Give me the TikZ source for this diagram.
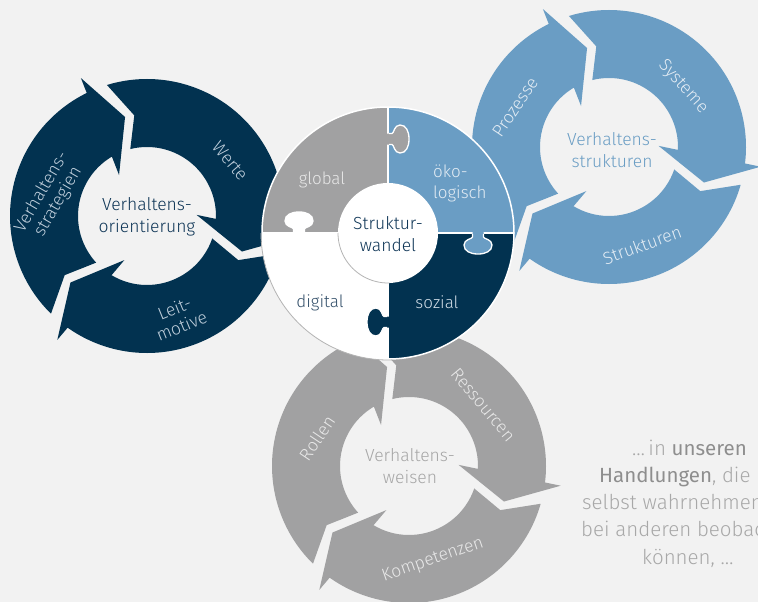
\documentclass[tikz,border=0pt]{standalone}
\usepackage{fontspec}
\setmainfont{Fira Sans Light}[BoldFont={Fira Sans}]
\definecolor{bg}{HTML}{F2F2F2}
\definecolor{navy}{HTML}{023250}
\definecolor{lblue}{HTML}{6A9DC4}
\definecolor{pgray}{HTML}{A1A1A2}
\definecolor{navytxt}{HTML}{BFCEDB}
\definecolor{bluetxt}{HTML}{E3ECF4}
\definecolor{graytxt}{HTML}{E8E8E8}
\definecolor{navydark}{HTML}{0E3556}
\definecolor{graydark}{HTML}{A6A6A6}
\definecolor{digtxt}{HTML}{34506A}
\definecolor{soztxt}{HTML}{D0DCE6}
\definecolor{sidetxt}{HTML}{A8A8A8}
\definecolor{sidebold}{HTML}{8E8E8E}
\definecolor{rimgray}{HTML}{B4B4B4}

% #1 centre, #2 tail rotation, #3 head rotation, #4 colour
\newcommand\RingSeg[4]{%
  \fill[#4,shift={#1}] ({227+#2}:137pt) arc[start angle={227+#2}, end angle={116.1+#3}, radius=137pt]
    -- ({115.6+#3}:153pt) -- ({102.5+#3}:101.4pt) -- ({124.3+#3}:49.6pt)
    -- ({120.6+#3}:69pt) arc[start angle={120.6+#3}, end angle={224+#2}, radius=69pt]
    -- ({217.2+#2}:101.4pt) -- cycle;}

\newcommand\RingOf[2]{%
  \RingSeg{#1}{-1.5}{0}{#2}
  \RingSeg{#1}{-120}{-123}{#2}
  \RingSeg{#1}{-243}{-241.5}{#2}}

\newcommand\PuzzleTab[3]{%
  \begin{scope}[shift={(P)}, rotate=#1]
    \fill[#2] (-1.5,#3-5.5) -- (4,#3-5.5) .. controls (6,#3-5.5) and (6,#3-14) .. (12,#3-14)
      .. controls (18,#3-14) and (21,#3-8) .. (21,#3) .. controls (21,#3+8) and (18,#3+14) .. (12,#3+14)
      .. controls (6,#3+14) and (6,#3+5.5) .. (4,#3+5.5) -- (-1.5,#3+5.5) -- cycle;
    \draw[white, line width=1.3pt] (1,#3-5.5) -- (4,#3-5.5) .. controls (6,#3-5.5) and (6,#3-14) .. (12,#3-14)
      .. controls (18,#3-14) and (21,#3-8) .. (21,#3) .. controls (21,#3+8) and (18,#3+14) .. (12,#3+14)
      .. controls (6,#3+14) and (6,#3+5.5) .. (4,#3+5.5) -- (1,#3+5.5);
  \end{scope}}

\tikzset{
  ringlbl/.style={font=\fontsize{17.5}{19}\selectfont, align=center, inner sep=0pt},
  centerlbl/.style={font=\fontsize{17.5}{21.5}\selectfont, align=center, inner sep=0pt},
  puzlbl/.style={font=\fontsize{17}{21}\selectfont, align=center, inner sep=0pt},
  sidelbl/.style={font=\fontsize{20.5}{24}\selectfont, text=sidetxt, inner sep=0pt, anchor=mid west},
}

\begin{document}
\begin{tikzpicture}[x=1pt,y=1pt]
\useasboundingbox (0,0) rectangle (758,-602);
\clip (0,0) rectangle (758,-602);
\fill[bg] (0,0) rectangle (758,-602);

% left ring
\RingOf{(147,-216)}{navy}
\node[ringlbl, text=navytxt, rotate=-50] (werte) at (230,-161) {Werte};
\node[ringlbl, text=navytxt, rotate=60] (strat) at (50,-197) {Verhaltens-\\strategien};
\node[ringlbl, text=navytxt, rotate=22] (leit) at (178,-317) {Leit-\\motive};
\node[centerlbl, text=navydark] (vo) at (147,-217) {Verhaltens-\\orientierung};

% right ring
\RingOf{(609,-147)}{lblue}
\node[ringlbl, text=bluetxt, rotate=-48] (sys) at (683,-87) {Systeme};
\node[ringlbl, text=bluetxt, rotate=56] (proz) at (515,-107) {Prozesse};
\node[ringlbl, text=bluetxt, rotate=20] (strk) at (642,-245) {Strukturen};
\node[centerlbl, text=lblue] (vs) at (612,-150) {Verhaltens-\\strukturen};

% bottom ring
\RingOf{(409,-466)}{pgray}
\node[ringlbl, text=graytxt, rotate=-50] (ress) at (483,-405) {Ressourcen};
\node[ringlbl, text=graytxt, rotate=56] (roll) at (317,-438) {Rollen};
\node[ringlbl, text=graytxt, rotate=19] (komp) at (433,-560) {Kompetenzen};
\node[centerlbl, text=graydark] (vw) at (410,-466) {Verhaltens-\\weisen};

% puzzle
\coordinate (P) at (388,-233);
\fill[pgray] (P) -- ++(180:126pt) arc[start angle=180, end angle=90, radius=126pt] -- cycle;
\fill[lblue] (P) -- ++(90:126pt) arc[start angle=90, end angle=0, radius=126pt] -- cycle;
\fill[navy] (P) -- ++(0:126pt) arc[start angle=0, end angle=-90, radius=126pt] -- cycle;
\fill[white] (P) -- ++(-90:126pt) arc[start angle=-90, end angle=-180, radius=126pt] -- cycle;
\draw[white, line width=2pt] ([xshift=-126pt]P) -- ([xshift=126pt]P);
\draw[white, line width=2pt] ([yshift=-126pt]P) -- ([yshift=126pt]P);
\PuzzleTab{0}{pgray}{94}
\PuzzleTab{-90}{lblue}{90}
\PuzzleTab{-180}{navy}{89}
\PuzzleTab{-270}{white}{89}
\draw[white, line width=1.5pt] (P) circle[radius=126pt];
\draw[rimgray, line width=0.8pt] ([xshift=-127pt]P) arc[start angle=180, end angle=272, radius=127pt];
\fill[white] (P) circle[radius=50pt];
\draw[rimgray, line width=0.8pt] ([xshift=-50pt]P) arc[start angle=180, end angle=272, radius=50pt];

\node[puzlbl, text=graytxt] (glob) at (322,-180) {global};
\node[puzlbl, text=bluetxt, align=left, anchor=west] (oeko) at (433,-183) {öko-\\logisch};
\node[puzlbl, text=digtxt] (dig) at (320,-303) {digital};
\node[puzlbl, text=soztxt] (soz) at (437,-302) {sozial};
\node[font=\fontsize{17.5}{22}\selectfont, align=center, inner sep=0pt, text=navydark] (sw) at (388,-234) {Struktur-\\wandel};

% side text
\node[sidelbl] (t1) at (632,-453) {…\,in \textbf{\textcolor{sidebold}{unseren}}};
\node[sidelbl] (t2) at (599,-480) {\textbf{\textcolor{sidebold}{Handlungen}}, die};
\node[sidelbl] (t3) at (582,-507) {selbst wahrnehmen};
\node[sidelbl] (t4) at (581,-534) {bei anderen beobachten};
\node[sidelbl] (t5) at (642,-562) {können, …};
\end{tikzpicture}
\end{document}
